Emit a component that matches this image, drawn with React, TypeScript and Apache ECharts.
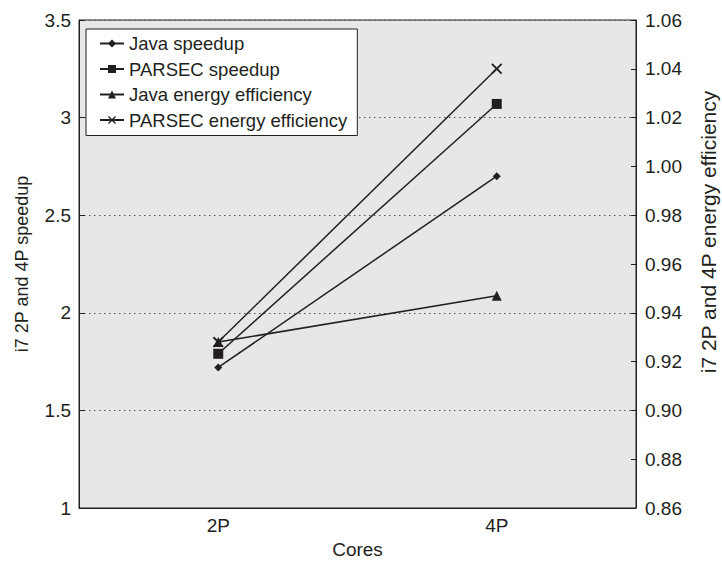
import React, { useEffect, useRef } from "react";
import * as echarts from "echarts";

const categories = ["2P", "4P"];
const javaSpeedup = [1.72, 2.7];
const parsecSpeedup = [1.79, 3.07];
const javaEnergy = [0.928, 0.947];
const parsecEnergy = [0.928, 1.04];
const seriesNames = [
  "Java speedup",
  "PARSEC speedup",
  "Java energy efficiency",
  "PARSEC energy efficiency",
];
const rightAxisTitle = "i7 2P and 4P energy efficiency";

const INK = "#231f20";
const FONT = "Liberation Sans, Arial, Helvetica, sans-serif";
const X_SYMBOL =
  "path://M0,1.2 L1.2,0 L5,3.8 L8.8,0 L10,1.2 L6.2,5 L10,8.8 L8.8,10 L5,6.2 L1.2,10 L0,8.8 L3.8,5 Z";

export default function App() {
  const ref = useRef<HTMLDivElement>(null);
  useEffect(() => {
    if (!ref.current) return;
    const chart = echarts.init(ref.current, null, { renderer: "svg" });
    const lineStyle = { color: INK, width: 1.5 };
    const itemStyle = { color: INK };
    chart.setOption({
      animation: false,
      textStyle: { fontFamily: FONT, color: INK },
      grid: {
        left: 79,
        right: 86,
        top: 20,
        bottom: 53,
        outerBoundsMode: "none",
        containLabel: false,
        show: true,
        backgroundColor: "#e6e7e8",
        borderColor: INK,
        borderWidth: 1,
      },
      graphic: [
        {
          type: "text",
          x: 708,
          y: 232,
          rotation: Math.PI / 2,
          style: {
            text: rightAxisTitle,
            fill: INK,
            font: `21px ${FONT}`,
            align: "center",
            verticalAlign: "middle",
          },
        },
      ],
      legend: {
        orient: "vertical",
        left: 86,
        top: 29,
        data: seriesNames,
        backgroundColor: "#ffffff",
        borderColor: INK,
        borderWidth: 1,
        borderRadius: 0,
        padding: [5, 10, 6, 13],
        itemGap: 6.5,
        itemWidth: 24,
        itemHeight: 10,
        textStyle: { fontFamily: FONT, color: INK, fontSize: 18.5, lineHeight: 18 },
      },
      xAxis: {
        type: "category",
        data: categories,
        boundaryGap: true,
        name: "Cores",
        nameLocation: "middle",
        nameGap: 31,
        nameTextStyle: { fontSize: 19, color: INK, fontFamily: FONT },
        axisLine: { lineStyle: { color: INK, width: 1 } },
        axisTick: { inside: true, length: 7, lineStyle: { color: INK } },
        axisLabel: { fontSize: 19, color: INK, margin: 8, fontFamily: FONT },
        splitLine: { show: false },
      },
      yAxis: [
        {
          type: "value",
          min: 1,
          max: 3.5,
          interval: 0.5,
          name: "i7 2P and 4P speedup",
          nameLocation: "middle",
          nameGap: 48,
          nameTextStyle: { fontSize: 18, color: INK, fontFamily: FONT },
          axisLine: { show: true, lineStyle: { color: INK } },
          axisTick: { show: true, inside: true, length: 6, lineStyle: { color: INK } },
          axisLabel: { fontSize: 19, color: INK, margin: 8, fontFamily: FONT },
          splitLine: {
            show: true,
            lineStyle: { color: "#555", type: [1.5, 3.5], width: 1 },
          },
        },
        {
          type: "value",
          min: 0.86,
          max: 1.06,
          interval: 0.02,
          position: "right",
          axisLine: { show: true, lineStyle: { color: INK } },
          axisTick: { show: true, inside: true, length: 5, lineStyle: { color: INK } },
          axisLabel: {
            fontSize: 19,
            color: INK,
            margin: 9,
            fontFamily: FONT,
            formatter: (v: number) => v.toFixed(2),
          },
          splitLine: { show: false },
        },
      ],
      series: [
        {
          name: seriesNames[0],
          type: "line",
          data: javaSpeedup,
          yAxisIndex: 0,
          symbol: "diamond",
          symbolSize: 8,
          lineStyle,
          itemStyle,
        },
        {
          name: seriesNames[1],
          type: "line",
          data: parsecSpeedup,
          yAxisIndex: 0,
          symbol: "rect",
          symbolSize: 10,
          lineStyle,
          itemStyle,
        },
        {
          name: seriesNames[2],
          type: "line",
          data: javaEnergy,
          yAxisIndex: 1,
          symbol: "triangle",
          symbolSize: 10,
          lineStyle,
          itemStyle,
        },
        {
          name: seriesNames[3],
          type: "line",
          data: parsecEnergy,
          yAxisIndex: 1,
          symbol: X_SYMBOL,
          symbolSize: 11,
          lineStyle,
          itemStyle,
        },
      ],
    });
    return () => chart.dispose();
  }, []);
  return (
    <div
      ref={ref}
      style={{ position: "fixed", left: 0, top: 0, width: 722, height: 561, background: "#fff" }}
    />
  );
}
